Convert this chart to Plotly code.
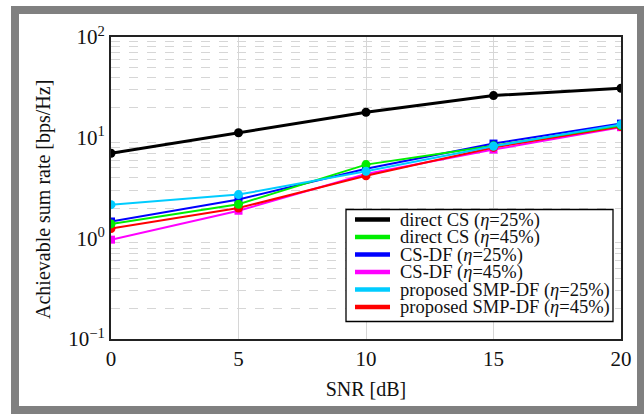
import plotly.graph_objects as go

# SNR sweep and achievable sum rates [bps/Hz]
snr_db = [0, 5, 10, 15, 20]
direct_cs_25 = [7.0, 11.2, 17.9, 26.2, 31.0]
direct_cs_45 = [1.39, 2.18, 5.4, 8.3, 13.2]
cs_df_25 = [1.47, 2.43, 4.9, 8.74, 13.8]
cs_df_45 = [0.97, 1.88, 4.36, 7.62, 12.7]
smp_df_25 = [2.16, 2.72, 4.63, 8.21, 13.5]
smp_df_45 = [1.25, 2.0, 4.19, 8.0, 12.9]

series_names = [
    "direct CS (<i>η</i>=25%)",
    "direct CS (<i>η</i>=45%)",
    "CS-DF (<i>η</i>=25%)",
    "CS-DF (<i>η</i>=45%)",
    "proposed SMP-DF (<i>η</i>=25%)",
    "proposed SMP-DF (<i>η</i>=45%)",
]
series_colors = ["#000000", "#00ee00", "#0000ff", "#ff00ff", "#00ccff", "#ff0000"]

y_tick_vals = [0.1, 1, 10, 100]
y_tick_text = ["10<sup>−1</sup>", "10<sup>0</sup>", "10<sup>1</sup>", "10<sup>2</sup>"]
x_tick_vals = [0, 5, 10, 15, 20]

W, H = 644, 417
ML, MR, MT, MB = 111, 23, 37, 78
PW, PH = W - ML - MR, H - MT - MB

FONT = "Liberation Serif"


def px_x(p):
    return (p - ML) / PW


def px_y(p):
    return (H - MB - p) / PH


fig = go.Figure()

# (values, colour index, marker, line width, marker size) in drawing order
styles = [
    (direct_cs_25, 0, "circle", 3, 9),
    (cs_df_25, 2, "square", 2, 8),
    (cs_df_45, 3, "square", 2, 8),
    (smp_df_45, 5, "circle", 2, 9),
    (direct_cs_45, 1, "circle", 2, 9),
    (smp_df_25, 4, "circle", 2, 9),
]

for vals, ci, sym, lw, ms in styles:
    col = series_colors[ci]
    fig.add_trace(go.Scatter(
        x=snr_db, y=vals, mode="lines+markers", name=series_names[ci],
        line=dict(color=col, width=lw),
        marker=dict(symbol=sym, size=ms, color=col),
        showlegend=False,
    ))

minor_vals = [m * 10 ** e for e in (-1, 0, 1) for m in range(2, 10)]

# grey frame around the whole figure
fig.add_shape(type="rect", xref="paper", yref="paper",
              x0=px_x(15), x1=px_x(641), y0=px_y(410), y1=px_y(10),
              line=dict(color="#808080", width=8), fillcolor="rgba(0,0,0,0)",
              layer="below")

# legend box with thick line samples
LEG_L, LEG_R, LEG_T, LEG_B = 346, 613, 209.5, 321.5
ROW0, ROW_STEP = 219.5, 17.5
fig.add_shape(type="rect", xref="paper", yref="paper",
              x0=px_x(LEG_L), x1=px_x(LEG_R), y0=px_y(LEG_B), y1=px_y(LEG_T),
              line=dict(color="#000000", width=1.3), fillcolor="white", layer="above")
annotations = []
for i, (name, col) in enumerate(zip(series_names, series_colors)):
    yc = ROW0 + i * ROW_STEP
    fig.add_shape(type="line", xref="paper", yref="paper",
                  x0=px_x(355), x1=px_x(390), y0=px_y(yc), y1=px_y(yc),
                  line=dict(color=col, width=4.5), layer="above")
    annotations.append(dict(
        x=px_x(398), y=px_y(yc + 0.5), xref="paper", yref="paper",
        xanchor="left", yanchor="middle", showarrow=False, text=name,
        font=dict(family=FONT, size=18.5, color="#111111"),
    ))

# y-axis title
annotations.append(dict(
    x=px_x(43), y=px_y(200), xref="paper", yref="paper",
    xanchor="center", yanchor="middle", showarrow=False, textangle=-90,
    text="Achievable sum rate [bps/Hz]",
    font=dict(family=FONT, size=20, color="#111111"),
))

fig.update_layout(
    width=W, height=H,
    margin=dict(l=ML, r=MR, t=MT, b=MB, pad=0),
    paper_bgcolor="white", plot_bgcolor="white",
    font=dict(family=FONT, color="#111111", size=20),
    showlegend=False,
    annotations=annotations,
    xaxis=dict(
        range=[0, 20], tickvals=x_tick_vals, ticks="",
        showgrid=True, gridcolor="#d6d6d6", gridwidth=1,
        showline=True, linecolor="#222222", linewidth=2, mirror=True,
        zeroline=False, tickfont=dict(size=21),
        title=dict(text="SNR [dB]", font=dict(size=20), standoff=12),
    ),
    yaxis=dict(
        type="log", range=[-1, 2], tickvals=y_tick_vals, ticktext=y_tick_text,
        ticks="", showgrid=False,
        showline=True, linecolor="#222222", linewidth=2, mirror=True,
        zeroline=False, tickfont=dict(size=21),
        minor=dict(tickvals=minor_vals, showgrid=True, gridcolor="#d6d6d6",
                   griddash="dash", gridwidth=1, ticks=""),
    ),
)

fig.write_html("out.html")
